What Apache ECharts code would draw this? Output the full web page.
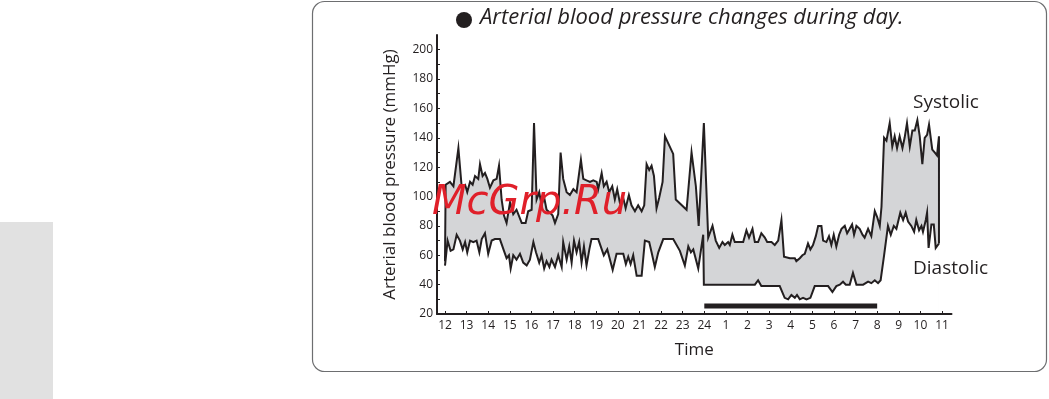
<!DOCTYPE html>
<html>
<head>
<meta charset="utf-8">
<script src="https://cdn.jsdelivr.net/npm/echarts@6/dist/echarts.min.js"></script>
<style>
  html, body { margin: 0; padding: 0; background: #fff; }
  #chart { width: 1049px; height: 399px; }
</style>
</head>
<body>
<div id="chart"></div>
<script>
// hours on a continuous axis: 24 = midnight, 25..35 = 1..11 next morning
const hourTicks = [12, 13, 14, 15, 16, 17, 18, 19, 20, 21, 22, 23, 24, 25, 26, 27, 28, 29, 30, 31, 32, 33, 34, 35]
const hourLabels = ['12', '13', '14', '15', '16', '17', '18', '19', '20', '21', '22', '23', '24', '1', '2', '3', '4', '5', '6', '7', '8', '9', '10', '11']
const pressureLabels = [20, 40, 60, 80, 100, 120, 140, 160, 180, 200]
const pressureTicks = [20, 30, 40, 50, 60, 70, 80, 90, 100, 110, 120, 130, 140, 150, 160, 170, 180, 190, 200]

const systolicTime = [
  12.00, 12.03, 12.23, 12.39, 12.62, 12.77, 12.93, 13.03, 13.16, 13.28,
  13.39, 13.54, 13.62, 13.74, 13.85, 13.96, 14.08, 14.24, 14.39, 14.50,
  14.62, 14.73, 14.85, 15.01, 15.16, 15.31, 15.55, 15.73, 15.85, 16.01,
  16.12, 16.24, 16.36, 16.47, 16.58, 16.70, 16.86, 16.98, 17.09, 17.24,
  17.35, 17.47, 17.63, 17.78, 17.94, 18.09, 18.29, 18.40, 18.55, 18.71,
  18.86, 19.02, 19.09, 19.25, 19.35, 19.48, 19.60, 19.74, 19.86, 19.97,
  20.09, 20.25, 20.36, 20.51, 20.63, 20.79, 20.94, 21.10, 21.22, 21.33,
  21.45, 21.56, 21.67, 21.79, 21.91, 22.07, 22.18, 22.56, 22.68, 23.18,
  23.41, 23.61, 23.74, 23.98, 24.18, 24.38, 24.53, 24.69, 24.84, 24.95,
  25.10, 25.18, 25.30, 25.41, 25.80, 25.95, 26.07, 26.23, 26.34, 26.49,
  26.64, 26.80, 26.91, 27.11, 27.26, 27.42, 27.57, 27.69, 27.96, 28.03,
  28.19, 28.26, 28.42, 28.54, 28.65, 28.80, 28.91, 29.03, 29.16, 29.27,
  29.42, 29.50, 29.65, 29.77, 29.88, 29.99, 30.11, 30.24, 30.35, 30.50,
  30.61, 30.73, 30.84, 30.93, 31.04, 31.19, 31.32, 31.42, 31.58, 31.73,
  31.89, 32.00, 32.12, 32.20, 32.32, 32.43, 32.58, 32.70, 32.81, 32.92,
  33.04, 33.17, 33.27, 33.38, 33.51, 33.63, 33.74, 33.86, 33.97, 34.09,
  34.20, 34.31, 34.40, 34.55, 34.66, 34.77, 34.86, 34.86
]
const systolicValue = [
  56, 108, 110, 107, 133, 107, 108, 103, 110, 108,
  114, 112, 122, 114, 116, 112, 106, 111, 112, 121,
  98, 87, 82, 96, 88, 91, 82, 82, 90, 91,
  150, 98, 103, 94, 100, 91, 89, 87, 82, 88,
  130, 112, 103, 101, 105, 103, 125, 112, 111, 110,
  111, 110, 105, 116, 107, 110, 103, 107, 98, 105,
  96, 99, 92, 101, 94, 90, 94, 90, 94, 122,
  118, 121, 114, 92, 99, 110, 141, 129, 98, 91,
  130, 107, 80, 150, 72, 80, 70, 65, 69, 67,
  69, 67, 74, 69, 69, 77, 72, 78, 69, 69,
  75, 72, 69, 69, 67, 70, 84, 59, 58, 57,
  58, 56, 58, 60, 61, 68, 64, 67, 73, 80,
  80, 70, 69, 73, 67, 74, 66, 74, 78, 80,
  75, 78, 81, 74, 80, 78, 74, 72, 78, 73,
  90, 86, 80, 93, 140, 138, 150, 134, 141, 133,
  141, 133, 140, 150, 134, 145, 145, 152, 141, 122,
  140, 142, 149, 132, 130, 128, 141, 68
]

const diastolicTime = [
  12.00, 12.12, 12.26, 12.39, 12.54, 12.69, 12.82, 12.93, 13.03, 13.16,
  13.31, 13.46, 13.59, 13.70, 13.85, 14.00, 14.16, 14.31, 14.54, 14.73,
  14.85, 14.96, 15.04, 15.16, 15.31, 15.47, 15.62, 15.78, 15.93, 16.09,
  16.21, 16.36, 16.47, 16.59, 16.70, 16.83, 16.93, 17.09, 17.24, 17.40,
  17.47, 17.63, 17.75, 17.86, 17.97, 18.09, 18.21, 18.32, 18.43, 18.55,
  18.68, 18.78, 19.09, 19.35, 19.51, 19.76, 19.94, 20.25, 20.37, 20.48,
  20.59, 20.71, 20.87, 21.10, 21.25, 21.45, 21.56, 21.71, 21.87, 22.10,
  22.56, 22.87, 23.10, 23.26, 23.38, 23.49, 23.72, 23.95, 23.98, 26.34,
  26.49, 26.64, 27.49, 27.72, 27.88, 28.03, 28.19, 28.29, 28.42, 28.57,
  28.73, 28.91, 29.11, 29.73, 29.93, 30.11, 30.27, 30.42, 30.55, 30.73,
  30.88, 31.04, 31.35, 31.58, 31.73, 31.89, 32.04, 32.16, 32.32, 32.50,
  32.63, 32.77, 32.89, 33.07, 33.20, 33.32, 33.43, 33.58, 33.71, 33.81,
  33.94, 34.05, 34.12, 34.25, 34.31, 34.38, 34.51, 34.62, 34.71, 34.86
]
const diastolicValue = [
  53, 70, 63, 64, 74, 70, 64, 69, 62, 70,
  69, 70, 62, 71, 75, 61, 70, 71, 71, 63,
  58, 60, 51, 60, 57, 61, 55, 53, 57, 69,
  62, 55, 60, 51, 56, 52, 57, 52, 60, 52,
  69, 57, 66, 55, 70, 62, 69, 55, 66, 53,
  64, 71, 71, 60, 64, 50, 61, 61, 54, 59,
  54, 60, 46, 46, 70, 69, 62, 52, 62, 71,
  71, 63, 53, 66, 62, 64, 51, 74, 40, 40,
  43, 39, 39, 31, 30, 33, 31, 33, 30, 31,
  30, 31, 39, 39, 35, 39, 40, 42, 40, 40,
  48, 40, 40, 42, 41, 43, 41, 43, 60, 80,
  74, 80, 78, 89, 84, 89, 83, 80, 76, 84,
  77, 80, 76, 84, 89, 65, 81, 81, 65, 68
]

// sleep period bar (midnight to 8 am)
const sleepTime = [24, 32]
const sleepLevel = [25.5, 25.5]

const ink = '#231f20'
const font = 'Open Sans'

const chart = echarts.init(document.getElementById('chart'))

let option = {
  animation: false,
  backgroundColor: '#fff',
  grid: {
    left: 437,
    right: 97.5,
    top: 35,
    bottom: 85,
    containLabel: false
  },
  xAxis: {
    type: 'value',
    min: 11.63,
    max: 35.44,
    z: 10,
    name: 'Time',
    nameLocation: 'middle',
    nameGap: 28,
    nameTextStyle: { color: ink, fontSize: 17, fontFamily: font },
    splitLine: { show: false },
    axisLine: { lineStyle: { color: ink, width: 2 } },
    axisTick: {
      inside: true,
      length: 3,
      customValues: hourTicks,
      lineStyle: { color: ink, width: 1 }
    },
    axisLabel: {
      customValues: hourTicks,
      margin: 6,
      color: ink,
      fontSize: 12,
      fontFamily: font,
      formatter: function (v) {
        return hourLabels[hourTicks.indexOf(Math.round(v))]
      }
    }
  },
  yAxis: {
    type: 'value',
    min: 20,
    max: 210,
    z: 10,
    name: 'Arterial blood pressure (mmHg)',
    nameLocation: 'middle',
    nameGap: 38,
    nameRotate: 90,
    nameTextStyle: { color: ink, fontSize: 17, fontFamily: font },
    splitLine: { show: false },
    axisLine: { show: true, lineStyle: { color: ink, width: 2 } },
    axisTick: {
      show: true,
      inside: true,
      length: 3,
      customValues: pressureTicks,
      lineStyle: { color: ink, width: 1 }
    },
    axisLabel: {
      customValues: pressureLabels,
      margin: 4,
      color: ink,
      fontSize: 12,
      fontFamily: font
    }
  },
  series: [
    {
      name: 'Systolic',
      type: 'line',
      z: 2,
      symbol: 'none',
      data: systolicTime.map((t, i) => [t, systolicValue[i]]),
      lineStyle: { color: ink, width: 2, join: 'miter' },
      areaStyle: { color: '#d4d5d7', opacity: 1, origin: 'start' }
    },
    {
      name: 'Diastolic',
      type: 'line',
      z: 3,
      symbol: 'none',
      data: diastolicTime.map((t, i) => [t, diastolicValue[i]]),
      lineStyle: { color: ink, width: 2, join: 'miter' },
      areaStyle: { color: '#ffffff', opacity: 1, origin: 'start' }
    },
    {
      name: 'Sleep',
      type: 'line',
      z: 5,
      symbol: 'none',
      data: sleepTime.map((t, i) => [t, sleepLevel[i]]),
      lineStyle: { color: ink, width: 5, cap: 'butt' }
    }
  ],
  graphic: [
    {
      type: 'rect',
      z: -10,
      shape: { x: 0, y: 222, width: 53, height: 177 },
      style: { fill: '#e1e1e1' }
    },
    {
      type: 'rect',
      z: -5,
      shape: { x: 312.5, y: 1.5, width: 734, height: 370, r: 12 },
      style: { fill: 'none', stroke: '#6d6e70', lineWidth: 1.2 }
    },
    {
      type: 'circle',
      z: 50,
      shape: { cx: 464, cy: 20, r: 8 },
      style: { fill: ink }
    },
    {
      type: 'text',
      z: 50,
      left: 480,
      top: 7,
      style: {
        text: 'Arterial blood pressure changes during day.',
        fill: ink,
        font: 'italic 22px "Open Sans"'
      }
    },
    {
      type: 'text',
      z: 50,
      left: 913,
      top: 93,
      style: { text: 'Systolic', fill: ink, font: '19px "Open Sans"' }
    },
    {
      type: 'text',
      z: 50,
      left: 913,
      top: 259,
      style: { text: 'Diastolic', fill: ink, font: '19px "Open Sans"' }
    },
    {
      type: 'text',
      left: 432,
      top: 184,
      z: 100,
      style: { text: 'McGrp.Ru', fill: '#e0202a', font: 'italic 40px "DejaVu Sans"' }
    }
  ]
}

chart.setOption(option)
window.addEventListener('resize', () => chart.resize())
</script>
</body>
</html>
